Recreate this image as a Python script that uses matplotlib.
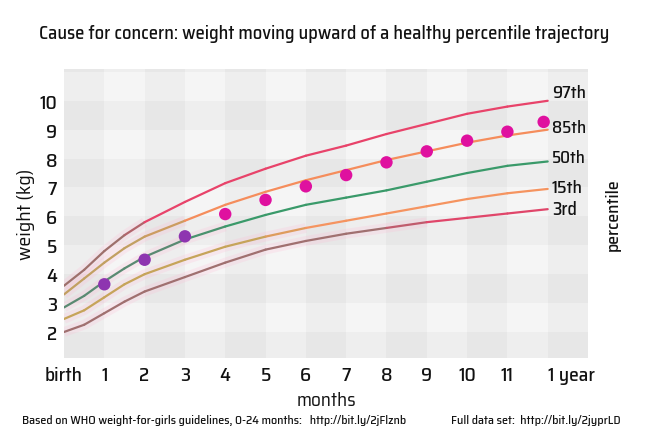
import matplotlib
matplotlib.use("Agg")
import matplotlib.pyplot as plt
from matplotlib.collections import LineCollection
from matplotlib.colors import to_rgb
from matplotlib import font_manager as fm
import numpy as np

_avail = set(f.name for f in fm.fontManager.ttflist)
_font = "DejaVu Sans"
for cand in ["Saira SemiCondensed", "Saira Semi Condensed", "Saira Condensed", "Saira"]:
    if cand in _avail:
        _font = cand
        break
plt.rcParams['font.family'] = [_font, 'DejaVu Sans']
plt.rcParams['font.weight'] = 500

# ---- data ----
months = [0, 0.5, 1, 1.5, 2, 3, 4, 5, 6, 7, 8, 9, 10, 11, 12]
p97 = [3.6, 4.15, 4.8, 5.35, 5.8, 6.5, 7.15, 7.65, 8.1, 8.45, 8.85, 9.2, 9.55, 9.8, 10.0]
p85 = [3.3, 3.85, 4.4, 4.9, 5.3, 5.85, 6.4, 6.85, 7.25, 7.6, 7.95, 8.25, 8.55, 8.8, 9.0]
p50 = [2.85, 3.25, 3.75, 4.2, 4.6, 5.2, 5.65, 6.05, 6.4, 6.65, 6.9, 7.2, 7.5, 7.75, 7.9]
p15 = [2.45, 2.75, 3.2, 3.65, 4.0, 4.5, 4.95, 5.3, 5.6, 5.85, 6.1, 6.35, 6.6, 6.8, 6.95]
p3 = [2.0, 2.25, 2.65, 3.05, 3.4, 3.9, 4.4, 4.85, 5.15, 5.4, 5.6, 5.8, 5.95, 6.1, 6.25]
percentile_names = ["97th", "85th", "50th", "15th", "3rd"]
label_y = [10.3, 9.1, 8.05, 7.0, 6.25]

child_months = [1, 2, 3, 4, 5, 6, 7, 8, 9, 10, 11, 11.9]
child_weight = [3.65, 4.5, 5.31, 6.08, 6.57, 7.04, 7.43, 7.87, 8.25, 8.62, 8.93, 9.27]

x_ticks = list(range(13))
x_tick_labels = ["birth", "1", "2", "3", "4", "5", "6", "7", "8", "9", "10", "11", "1 year"]
y_ticks = list(range(2, 11))

# ---- styles ----
pure_colors = ["#e8436a", "#f58d5c", "#3a9a6a", "#f59460", "#e0466a"]
muted_colors = ["#9e706c", "#c2a062", "#5a8a72", "#c6a45a", "#a07070"]
switch_at = [2.0, 2.8, 3.5, 5.5, 8.5]
INK = "#111111"

fig = plt.figure(figsize=(6.48, 4.39), dpi=100)
ax = fig.add_axes([64/648, 80/439, 524/648, 289/439])
ax.set_xlim(0, 13)
ax.set_ylim(1.1, 11.1)
ax.set_facecolor("#f5f5f5")
for s in ax.spines.values():
    s.set_visible(False)

# plaid background
for c in range(0, 13, 2):
    ax.axvspan(c, c + 1, color="k", alpha=0.028, lw=0, zorder=0)
for r in range(1, 12, 2):
    ax.axhspan(r, r + 1, color="k", alpha=0.028, lw=0, zorder=0)

series = [p97, p85, p50, p15, p3]
for vals, pc, mc, sw in zip(series, pure_colors, muted_colors, switch_at):
    xs = np.array(months, float)
    ys = np.array(vals, float)
    mask = xs <= sw + 0.5
    ax.plot(xs[mask], ys[mask], color="#ffb8d4", lw=7, alpha=0.22,
            solid_capstyle="butt", zorder=1)
    pts = np.column_stack([xs, ys]).reshape(-1, 1, 2)
    segs = np.concatenate([pts[:-1], pts[1:]], axis=1)
    mids = (xs[:-1] + xs[1:]) / 2
    a = np.clip((mids - (sw - 0.5)) / 1.0, 0, 1)
    c0 = np.array(to_rgb(mc)); c1 = np.array(to_rgb(pc))
    cols = [tuple(c0 * (1 - t) + c1 * t) for t in a]
    lc = LineCollection(segs, colors=cols, linewidths=1.6, capstyle="round",
                        joinstyle="round", zorder=2)
    ax.add_collection(lc)

pct_texts = []
for name, ly in zip(percentile_names, label_y):
    pct_texts.append(ax.text(12.1, ly, name, fontsize=13, va="center", ha="left",
                             color=INK, zorder=4))

dot_colors = ["#8e35b0"] * 3 + ["#df119f"] * (len(child_months) - 3)
ax.scatter(child_months, child_weight, s=80, c=dot_colors, lw=0, zorder=3)

ax.set_xticks(x_ticks)
ax.set_xticklabels(x_tick_labels)
ax.set_yticks(y_ticks)
ax.tick_params(axis="both", length=0, labelsize=14, colors=INK)
ax.tick_params(axis="x", pad=6)
ax.tick_params(axis="y", pad=5)
ax.get_xticklabels()[-1].set_ha("left")

xl = ax.set_xlabel("months", fontsize=14, labelpad=5, color=INK)
yl = ax.set_ylabel("weight (kg)", fontsize=14, labelpad=3, color=INK)

ptxt = fig.text(613/648, 1 - 215/439, "percentile", rotation=90, fontsize=11,
                ha="center", va="center", color=INK)
title = fig.text(0.5, 1 - 34/439,
                 "Cause for concern: weight moving upward of a healthy percentile trajectory",
                 fontsize=12.5, ha="center", va="center", color=INK)
foot1 = fig.text(22/648, 1 - 421/439,
                 "Based on WHO weight-for-girls guidelines, 0-24 months:   http://bit.ly/2jFlznb",
                 fontsize=8.5, ha="left", va="center", color=INK)
foot2 = fig.text(451/648, 1 - 421/439, "Full data set:  http://bit.ly/2jyprLD",
                 fontsize=8.5, ha="left", va="center", color=INK)

# fit font sizes to the reference's text extents (pixels)
renderer = fig.canvas.get_renderer()

def fit(t, target, vertical=False):
    bb = t.get_window_extent(renderer)
    cur = bb.height if vertical else bb.width
    if cur > 0:
        t.set_fontsize(t.get_fontsize() * target / cur)

fit(title, 572)
fit(foot1, 387)
fit(foot2, 170)
fit(xl, 60)
fit(yl, 92, vertical=True)
fit(ptxt, 72, vertical=True)
for t in pct_texts:
    fit(t, 34 if t.get_text() in ("97th", "85th", "50th") else (31 if t.get_text() == "15th" else 25))
fig.canvas.draw()
birth = ax.get_xticklabels()[0]
w = birth.get_window_extent(renderer).width
fs = 14 * 38 / w if w > 0 else 14
ax.tick_params(axis="both", labelsize=fs)

fig.savefig("out.png", dpi=100, facecolor="white")
